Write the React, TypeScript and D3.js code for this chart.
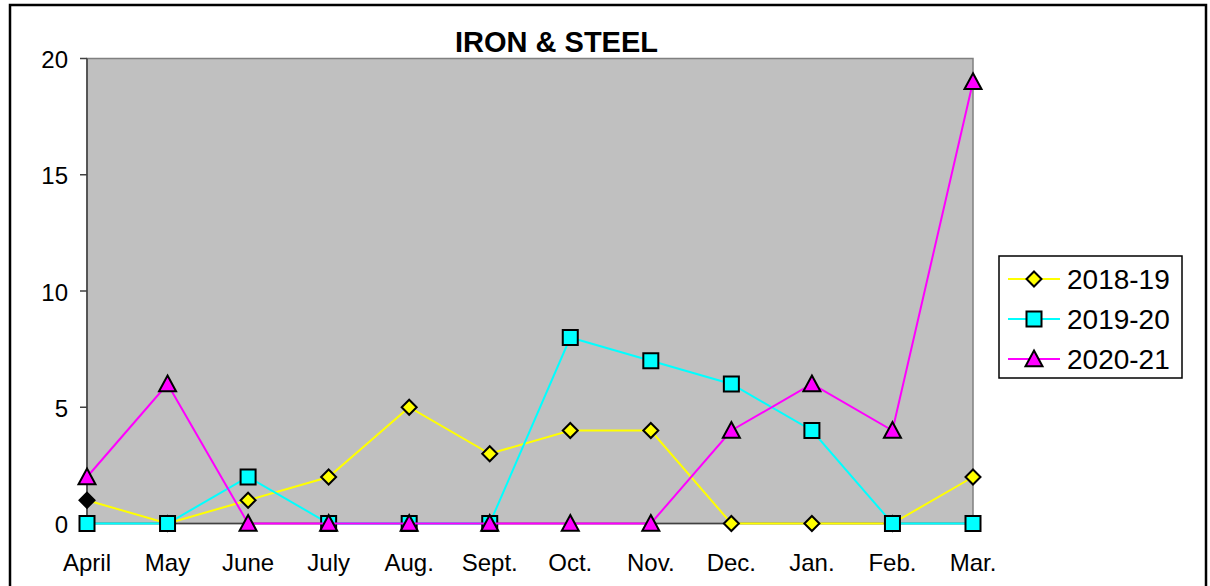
import React from "react";
import * as d3 from "d3";

const months = ["April", "May", "June", "July", "Aug.", "Sept.", "Oct.", "Nov.", "Dec.", "Jan.", "Feb.", "Mar."];
const s2018 = [1, 0, 1, 2, 5, 3, 4, 4, 0, 0, 0, 2];
const s2019 = [0, 0, 2, 0, 0, 0, 8, 7, 6, 4, 0, 0];
const s2020 = [2, 6, 0, 0, 0, 0, 0, 0, 4, 6, 4, 19];
const yTicks = [0, 5, 10, 15, 20];
const seriesNames = ["2018-19", "2019-20", "2020-21"];
const seriesColors = ["#FFFF00", "#00FFFF", "#FF00FF"];

const W = 1210, H = 586;
const L = 87, R = 973, T = 58.5, B = 523.5;

function Marker({ kind, x, y, fill }: { kind: number; x: number; y: number; fill: string }) {
  if (kind === 0) {
    const r = 7.5;
    return <path d={`M${x},${y - r}L${x + r},${y}L${x},${y + r}L${x - r},${y}Z`} fill={fill} stroke="#000" strokeWidth={2} />;
  }
  if (kind === 1) {
    const r = 7.5;
    return <rect x={x - r} y={y - r} width={2 * r} height={2 * r} fill={fill} stroke="#000" strokeWidth={2} />;
  }
  const r = 8.5;
  return <path d={`M${x},${y - r}L${x + r},${y + r * 0.85}L${x - r},${y + r * 0.85}Z`} fill={fill} stroke="#000" strokeWidth={2} />;
}

export default function App() {
  const x = d3.scalePoint<string>().domain(months).range([L, R]).padding(0);
  const y = d3.scaleLinear().domain([0, 20]).range([B, T]);
  const data = [s2018, s2019, s2020];
  const line = d3.line<number>().x((_, i) => x(months[i])!).y((d) => y(d));
  const font = "Arial, 'Liberation Sans', sans-serif";
  return (
    <svg width={W} height={H} style={{ position: "absolute", left: 0, top: 0 }} fontFamily={font}>
      <rect x={0} y={0} width={W} height={H} fill="#fff" />
      <rect x={10} y={5} width={1196} height={600} fill="#fff" stroke="#000" strokeWidth={2.5} />
      <text x={556.5} y={52} textAnchor="middle" fontWeight="bold" fontSize={29}>IRON &amp; STEEL</text>
      <rect x={L} y={T} width={R - L} height={B - T} fill="#C0C0C0" stroke="#808080" strokeWidth={1.5} />
      <line x1={L} x2={L} y1={T} y2={B} stroke="#404040" strokeWidth={1.5} />
      <line x1={L} x2={R} y1={B} y2={B} stroke="#404040" strokeWidth={1.5} />
      {yTicks.map((t) => (
        <g key={t}>
          <line x1={L - 7} x2={L} y1={y(t)} y2={y(t)} stroke="#404040" strokeWidth={1.5} />
          <text x={68} y={y(t) + 9.5} textAnchor="end" fontSize={24}>{t}</text>
        </g>
      ))}
      {months.map((m) => (
        <text key={m} x={x(m)!} y={570.5} textAnchor="middle" fontSize={24}>{m}</text>
      ))}
      {data.map((s, k) => (
        <g key={k}>
          <path d={line(s)!} fill="none" stroke={seriesColors[k]} strokeWidth={2} />
          {s.map((v, i) => (
            <Marker key={i} kind={k} x={x(months[i])!} y={y(v)} fill={k === 0 && i === 0 ? "#000" : seriesColors[k]} />
          ))}
        </g>
      ))}
      <rect x={999} y={256} width={183} height={122} fill="#fff" stroke="#000" strokeWidth={1.5} />
      {seriesNames.map((n, k) => {
        const yy = 279 + k * 40;
        return (
          <g key={n}>
            <line x1={1008} x2={1060} y1={yy} y2={yy} stroke={seriesColors[k]} strokeWidth={2} />
            <Marker kind={k} x={1034} y={yy} fill={seriesColors[k]} />
            <text x={1067} y={yy + 10} fontSize={28}>{n}</text>
          </g>
        );
      })}
    </svg>
  );
}
